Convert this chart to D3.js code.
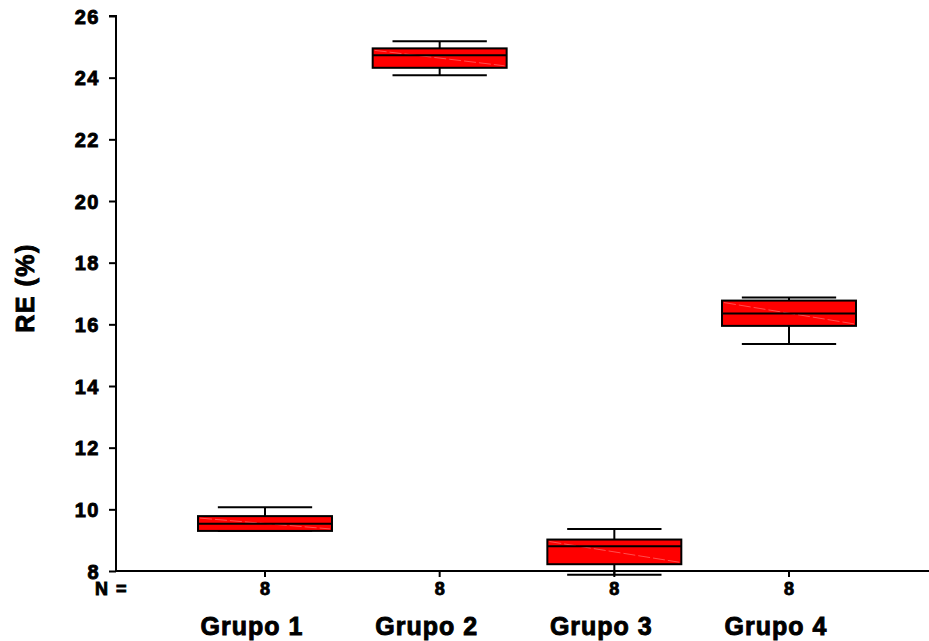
<!DOCTYPE html>
<html>
<head>
<meta charset="utf-8">
<script src="https://cdn.jsdelivr.net/npm/d3@7"></script>
<style>
  html, body { margin: 0; padding: 0; background: #fff; }
  svg text { font-family: "Liberation Sans", Arial, sans-serif; font-weight: bold; fill: #000; stroke: #000; stroke-width: 0.9px; }
</style>
</head>
<body>
<svg id="chart" width="929" height="641"></svg>
<script>
// Groups and their box-plot summaries (RE, %)
const groups   = ["Grupo 1", "Grupo 2", "Grupo 3", "Grupo 4"];
const counts   = [8, 8, 8, 8];
const whiskLo  = [9.30, 24.08, 7.88, 15.36];
const q1       = [9.30, 24.32, 8.22, 15.95];
const medians  = [9.53, 24.73, 8.80, 16.35];
const q3       = [9.78, 24.95, 9.02, 16.77];
const whiskHi  = [10.07, 25.18, 9.36, 16.87];
const yTicks   = [8, 10, 12, 14, 16, 18, 20, 22, 24, 26];

const svg = d3.select("#chart");

const y = d3.scaleLinear().domain([8, 26]).range([571, 16]);
const x = d3.scalePoint().domain(groups).range([265, 789]);
const step = x.step();
const boxW = step * 0.767;
const capW = step * 0.54;
const axisX = 116, axisY = 571;

// Y axis
const yAxis = svg.append("g")
  .attr("transform", `translate(${axisX},0)`)
  .call(d3.axisLeft(y).tickValues(yTicks).tickSize(7).tickPadding(9).tickFormat(d3.format("d")));
yAxis.attr("font-size", null).attr("font-family", null);
yAxis.select(".domain").attr("stroke", "#000").attr("stroke-width", 2)
  .attr("d", `M-7,${y(26)}H0V${axisY}`);
yAxis.selectAll(".tick line").attr("stroke", "#000").attr("stroke-width", 2);
yAxis.selectAll(".tick text")
  .style("font-size", "20px").attr("letter-spacing", "1.5px").attr("dy", "0.36em");

// X axis baseline with tick marks under each group
svg.append("line")
  .attr("x1", axisX - 1).attr("x2", 929).attr("y1", axisY).attr("y2", axisY)
  .attr("stroke", "#000").attr("stroke-width", 2);
svg.append("g").selectAll("line").data(groups).join("line")
  .attr("x1", d => x(d)).attr("x2", d => x(d))
  .attr("y1", axisY).attr("y2", axisY + 6)
  .attr("stroke", "#000").attr("stroke-width", 2);

// Boxes
const data = groups.map((g, i) => ({
  g, n: counts[i], lo: whiskLo[i], q1: q1[i], med: medians[i], q3: q3[i], hi: whiskHi[i]
}));

const boxes = svg.append("g").selectAll("g").data(data).join("g");

// whisker stems
boxes.append("line")
  .attr("x1", d => x(d.g)).attr("x2", d => x(d.g))
  .attr("y1", d => y(d.hi)).attr("y2", d => y(d.q3))
  .attr("stroke", "#000").attr("stroke-width", 2);
boxes.append("line")
  .attr("x1", d => x(d.g)).attr("x2", d => x(d.g))
  .attr("y1", d => y(d.q1)).attr("y2", d => y(d.lo))
  .attr("stroke", "#000").attr("stroke-width", 2);
// whisker caps
boxes.append("line")
  .attr("x1", d => x(d.g) - capW / 2).attr("x2", d => x(d.g) + capW / 2)
  .attr("y1", d => y(d.hi)).attr("y2", d => y(d.hi))
  .attr("stroke", "#000").attr("stroke-width", 2);
boxes.append("line")
  .attr("x1", d => x(d.g) - capW / 2).attr("x2", d => x(d.g) + capW / 2)
  .attr("y1", d => y(d.lo)).attr("y2", d => y(d.lo))
  .attr("stroke", "#000").attr("stroke-width", 2);
// box body
boxes.append("rect")
  .attr("x", d => x(d.g) - boxW / 2).attr("width", boxW)
  .attr("y", d => y(d.q3)).attr("height", d => y(d.q1) - y(d.q3))
  .attr("fill", "#ff0000").attr("stroke", "#000").attr("stroke-width", 2);
// faint fill sheen across the box
boxes.append("line")
  .attr("x1", d => x(d.g) - boxW / 2 + 2).attr("y1", d => y(d.q3) + 2)
  .attr("x2", d => x(d.g) + boxW / 2 - 2).attr("y2", d => y(d.q1) - 2)
  .attr("stroke", "#ff7070").attr("stroke-width", 1).attr("stroke-dasharray", "12,3").attr("opacity", 0.7);
// median
boxes.append("line")
  .attr("x1", d => x(d.g) - boxW / 2).attr("x2", d => x(d.g) + boxW / 2)
  .attr("y1", d => y(d.med)).attr("y2", d => y(d.med))
  .attr("stroke", "#000").attr("stroke-width", 2);

// N row
svg.append("text").attr("x", 95).attr("y", 595)
  .style("font-size", "18px").attr("letter-spacing", "1.5px").text("N =");
svg.append("g").selectAll("text").data(data).join("text")
  .attr("x", d => x(d.g)).attr("y", 595).attr("text-anchor", "middle")
  .style("font-size", "18px").text(d => d.n);

// Group labels
svg.append("g").selectAll("text").data(groups).join("text")
  .attr("x", d => x(d) - 13).attr("y", 635).attr("text-anchor", "middle")
  .style("font-size", "25px").attr("letter-spacing", "1px").text(d => d);

// Y axis title
svg.append("text")
  .attr("transform", "translate(34,288) rotate(-90)")
  .attr("text-anchor", "middle")
  .style("font-size", "25px").attr("letter-spacing", "1.5px").text("RE (%)");
</script>
</body>
</html>
